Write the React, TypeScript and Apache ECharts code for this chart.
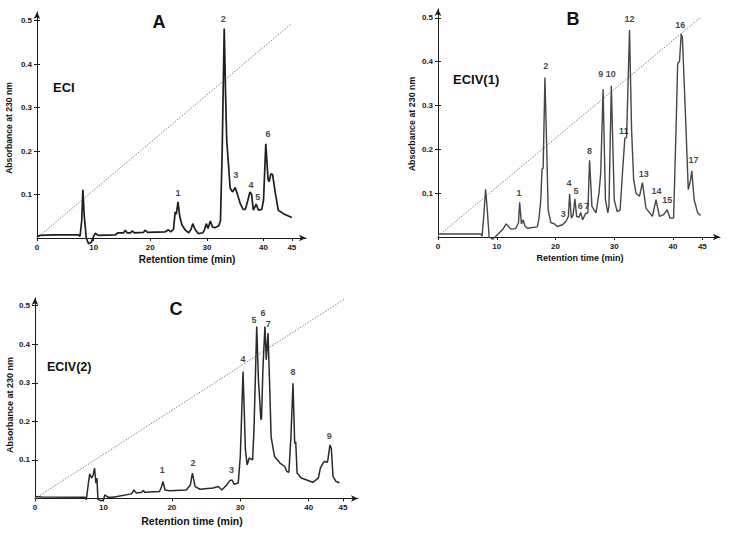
import React, { useEffect, useRef } from "react";
import * as echarts from "echarts";

// ---------- data ----------
const xTicks = [0, 10, 20, 30, 40, 45];
const yTicks = [0.1, 0.2, 0.3, 0.4, 0.5];

// Panel A (ECI): retention time (min), absorbance at 230 nm
const traceA: number[][] = [
  [0, 0.003], [0.5, 0.006], [3, 0.007], [7.3, 0.007], [7.6, 0.004], [7.9, 0.04], [8.1, 0.111], [8.35, 0.05],
  [8.7, 0.0], [9.1, -0.013], [9.6, -0.01], [10.0, 0.004], [10.3, 0.011], [10.8, 0.006], [13.8, 0.007],
  [14.3, 0.012], [15.3, 0.012], [15.6, 0.018], [15.9, 0.012], [16.5, 0.012], [16.8, 0.016], [17.2, 0.012],
  [18.8, 0.013], [19.1, 0.018], [19.5, 0.013], [22.6, 0.014], [23.2, 0.019], [23.6, 0.014], [24.1, 0.02],
  [24.4, 0.06], [24.6, 0.055], [24.9, 0.083], [25.2, 0.05], [25.6, 0.03], [26.2, 0.018], [26.8, 0.012],
  [27.2, 0.02], [27.5, 0.033], [27.9, 0.02], [28.5, 0.01], [29.3, 0.012], [29.6, 0.02], [29.9, 0.033],
  [30.2, 0.022], [30.6, 0.039], [31.0, 0.025], [31.5, 0.024], [32.1, 0.028], [32.4, 0.04], [32.7, 0.2],
  [33.06, 0.482], [33.3, 0.33], [33.5, 0.225], [33.8, 0.171], [34.1, 0.115], [34.5, 0.106], [35.0, 0.116],
  [35.4, 0.1], [35.9, 0.079], [36.4, 0.066], [36.8, 0.066], [37.2, 0.085], [37.6, 0.106], [37.9, 0.1],
  [38.2, 0.064], [38.5, 0.072], [38.7, 0.078], [39.1, 0.064], [39.7, 0.066], [40.0, 0.087], [40.4, 0.217],
  [40.8, 0.135], [41.0, 0.13], [41.3, 0.148], [41.6, 0.146], [42.1, 0.102], [42.6, 0.064], [43.5, 0.056],
  [45.0, 0.047],
];
const gradientA: number[][] = [[0, 0], [45, 0.494]];
const peakNamesA = ["1", "2", "3", "4", "5", "6"];
const peakPosA: number[][] = [[24.9, 0.104], [32.9, 0.503], [35.1, 0.144], [37.8, 0.123], [39.0, 0.094], [40.8, 0.24]];

// Panel B (ECIV(1))
const traceB: number[][] = [
  [0, 0.007], [7.3, 0.007], [7.5, 0.002], [7.8, 0.05], [8.1, 0.109], [8.4, 0.06], [8.7, 0.0], [9.3, -0.005],
  [10.1, 0.005], [11.0, 0.017], [11.6, 0.03], [12.4, 0.018], [13.2, 0.019], [13.7, 0.032], [13.9, 0.079],
  [14.2, 0.03], [14.5, 0.039], [14.8, 0.025], [15.2, 0.02], [16.9, 0.023], [17.2, 0.043], [17.5, 0.085],
  [17.7, 0.155], [17.9, 0.157], [18.2, 0.364], [18.5, 0.206], [18.75, 0.062], [19.2, 0.033], [19.8, 0.03],
  [20.3, 0.024], [21.2, 0.028], [21.8, 0.036], [22.2, 0.047], [22.4, 0.098], [22.7, 0.043], [23.0, 0.05],
  [23.3, 0.087], [23.6, 0.047], [24.0, 0.045], [24.3, 0.056], [24.6, 0.039], [25.1, 0.053], [25.5, 0.055],
  [25.8, 0.175], [26.2, 0.07], [26.9, 0.055], [27.4, 0.1], [27.7, 0.146], [28.1, 0.337], [28.5, 0.085],
  [28.9, 0.055], [29.1, 0.07], [29.5, 0.345], [30.0, 0.085], [30.5, 0.058], [31.0, 0.062], [31.4, 0.146],
  [31.8, 0.225], [32.1, 0.227], [32.6, 0.472], [32.95, 0.245], [33.3, 0.131], [33.7, 0.1], [34.3, 0.093],
  [34.8, 0.124], [35.4, 0.066], [36.5, 0.047], [37.1, 0.085], [37.7, 0.047], [38.4, 0.051], [39.0, 0.062],
  [39.5, 0.043], [40.1, 0.043], [40.5, 0.237], [40.8, 0.396], [41.1, 0.4], [41.4, 0.463], [41.6, 0.455],
  [42.2, 0.252], [42.6, 0.108], [43.0, 0.131], [43.2, 0.151], [43.6, 0.085], [44.2, 0.055], [44.7, 0.049],
];
const gradientB: number[][] = [[0, 0.002], [44.6, 0.5]];
const peakNamesB = ["1", "2", "3", "4", "5", "6", "7", "8", "9", "10", "11", "12", "13", "14", "15", "16", "17"];
const peakPosB: number[][] = [
  [13.8, 0.1], [18.35, 0.39], [21.3, 0.052], [22.3, 0.123], [23.5, 0.106], [24.2, 0.07], [25.3, 0.07],
  [25.8, 0.197], [27.7, 0.372], [29.4, 0.372], [31.6, 0.242], [32.6, 0.497], [35.0, 0.144], [37.2, 0.106],
  [39.0, 0.085], [41.25, 0.483], [43.5, 0.175],
];

// Panel C (ECIV(2))
const traceC: number[][] = [
  [0, 0.005], [1, 0.004], [7.3, 0.0035], [7.5, -0.003], [7.8, 0.04], [8.0, 0.064], [8.3, 0.053], [8.5, 0.061],
  [8.7, 0.079], [8.9, 0.04], [9.05, 0.053], [9.2, -0.003], [9.7, -0.006], [10.0, -0.004], [10.2, 0.0095],
  [10.7, 0.003], [11.4, 0.003], [14.1, 0.012], [14.45, 0.022], [14.8, 0.014], [15.6, 0.016], [15.8, 0.021],
  [16.1, 0.016], [18.2, 0.018], [18.5, 0.031], [18.7, 0.044], [19.0, 0.022], [19.7, 0.02], [22.1, 0.022],
  [22.7, 0.035], [23.0, 0.066], [23.4, 0.031], [24.1, 0.024], [26.0, 0.027], [26.8, 0.031], [27.3, 0.022],
  [28.0, 0.035], [28.5, 0.047], [28.8, 0.048], [29.1, 0.037], [29.7, 0.04], [30.0, 0.109], [30.4, 0.329],
  [30.75, 0.126], [31.0, 0.087], [31.3, 0.105], [31.8, 0.1], [32.0, 0.178], [32.4, 0.446], [32.65, 0.308],
  [33.0, 0.206], [33.1, 0.205], [33.3, 0.334], [33.6, 0.446], [33.8, 0.36], [34.05, 0.429], [34.3, 0.29],
  [34.5, 0.16], [35.0, 0.109], [35.8, 0.092], [36.5, 0.083], [36.8, 0.07], [37.1, 0.068], [37.4, 0.16],
  [37.7, 0.299], [37.95, 0.143], [38.1, 0.147], [38.3, 0.066], [38.9, 0.053], [39.7, 0.048], [40.6, 0.042],
  [41.4, 0.053], [41.7, 0.079], [42.1, 0.092], [42.3, 0.096], [42.7, 0.094], [42.8, 0.1], [43.1, 0.139],
  [43.3, 0.13], [43.55, 0.057], [44.0, 0.044], [44.5, 0.041],
];
const gradientC: number[][] = [[0, 0], [45.3, 0.518]];
const peakNamesC = ["1", "2", "3", "4", "5", "6", "7", "8", "9"];
const peakPosC: number[][] = [
  [18.6, 0.074], [23.1, 0.092], [28.7, 0.073], [30.4, 0.361], [32.0, 0.463], [33.3, 0.48], [34.1, 0.453],
  [37.7, 0.329], [43.0, 0.162],
];

const panelTitles = ["A", "B", "C"];
const sampleNames = ["ECI", "ECIV(1)", "ECIV(2)"];
const yAxisTitle = "Absorbance at 230 nm";
const xAxisTitle = "Retention time (min)";

// ---------- styling / layout ----------
const FONT = "'Liberation Sans', Arial, Helvetica, sans-serif";
const AX = "#1a1a1a";

const grids = [
  { left: 37, top: 12, width: 269, height: 226, xMax: 47.5, yMax: 0.52 },
  { left: 438, top: 9, width: 282, height: 228, xMax: 48, yMax: 0.52 },
  { left: 35, top: 298, width: 323, height: 200.5, xMax: 47.2, yMax: 0.52 },
];

function xAxisFor(i: number) {
  return {
    type: "value",
    gridIndex: i,
    min: 0,
    max: grids[i].xMax,
    axisLine: {
      show: true,
      onZero: false,
      symbol: ["none", "arrow"],
      symbolSize: [5, 7],
      lineStyle: { color: AX, width: 1 },
    },
    axisTick: { show: true, customValues: xTicks, length: 3, lineStyle: { color: AX } },
    axisLabel: {
      customValues: xTicks,
      color: AX,
      fontSize: 8,
      fontWeight: "bold",
      fontFamily: FONT,
      margin: 5,
    },
    splitLine: { show: false },
  };
}

function yAxisFor(i: number) {
  return {
    type: "value",
    gridIndex: i,
    min: 0,
    max: grids[i].yMax,
    axisLine: {
      show: true,
      onZero: false,
      symbol: ["none", "arrow"],
      symbolSize: [5, 7],
      lineStyle: { color: AX, width: 1 },
    },
    axisTick: { show: true, customValues: yTicks, length: 3, lineStyle: { color: AX } },
    axisLabel: {
      customValues: yTicks,
      formatter: (v: number) => v.toFixed(1),
      color: AX,
      fontSize: 8,
      fontWeight: "bold",
      fontFamily: FONT,
      margin: 5,
    },
    splitLine: { show: false },
  };
}

// second y axis on the same spot, only to draw the inner half of the crossing ticks
function yInnerTicksFor(i: number) {
  return {
    type: "value",
    gridIndex: i,
    position: "left",
    min: 0,
    max: grids[i].yMax,
    axisLine: { show: false },
    axisTick: { show: true, inside: true, customValues: yTicks, length: 3, lineStyle: { color: AX } },
    axisLabel: { show: false },
    splitLine: { show: false },
  };
}

function traceSeries(i: number, data: number[][], color: string, width: number) {
  return {
    type: "line",
    xAxisIndex: i,
    yAxisIndex: i,
    data,
    symbol: "none",
    showSymbol: false,
    clip: false,
    silent: true,
    lineStyle: { color, width },
    z: 3,
  };
}

function gradientSeries(i: number, data: number[][]) {
  return {
    type: "line",
    xAxisIndex: i,
    yAxisIndex: i,
    data,
    symbol: "none",
    showSymbol: false,
    silent: true,
    lineStyle: { color: "#808080", width: 1, type: [1.5, 1.5] },
    z: 2,
  };
}

function labelSeries(i: number, names: string[], pos: number[][]) {
  return {
    type: "scatter",
    xAxisIndex: i,
    yAxisIndex: i,
    data: names.map((n, k) => ({ name: n, value: pos[k] })),
    symbolSize: 1,
    itemStyle: { color: "rgba(0,0,0,0)" },
    silent: true,
    label: {
      show: true,
      position: "inside",
      formatter: "{b}",
      color: "#111",
      fontSize: 9,
      fontWeight: "bold",
      fontFamily: FONT,
    },
    z: 4,
  };
}

function text(x: number, y: number, s: string, size: number, opts: any = {}) {
  const align = opts.align || "center";
  return {
    type: "text",
    x,
    y,
    rotation: opts.rotation || 0,
    silent: true,
    style: {
      text: s,
      fill: "#111",
      font: `bold ${size}px ${FONT}`,
      align,
      verticalAlign: "middle",
      textAlign: align,
      textVerticalAlign: "middle",
    },
  };
}

export default function App() {
  const ref = useRef<HTMLDivElement>(null);

  useEffect(() => {
    if (!ref.current) return;
    const chart = echarts.init(ref.current, null, { renderer: "svg" });
    const option: any = {
      animation: false,
      backgroundColor: "#ffffff",
      grid: grids.map((g) => ({
        left: g.left,
        top: g.top,
        width: g.width,
        height: g.height,
        containLabel: false,
        outerBoundsMode: "none",
      })),
      xAxis: [xAxisFor(0), xAxisFor(1), xAxisFor(2)],
      yAxis: [yAxisFor(0), yAxisFor(1), yAxisFor(2), yInnerTicksFor(0), yInnerTicksFor(1), yInnerTicksFor(2)],
      series: [
        gradientSeries(0, gradientA),
        traceSeries(0, traceA, "#1c1f1f", 1.7),
        labelSeries(0, peakNamesA, peakPosA),
        gradientSeries(1, gradientB),
        traceSeries(1, traceB, "#464646", 1.4),
        labelSeries(1, peakNamesB, peakPosB),
        gradientSeries(2, gradientC),
        traceSeries(2, traceC, "#2a2a2a", 1.5),
        labelSeries(2, peakNamesC, peakPosC),
      ],
      graphic: [
        text(159, 22, panelTitles[0], 18),
        text(573, 19, panelTitles[1], 18),
        text(176, 309, panelTitles[2], 18),
        text(53, 87, sampleNames[0], 13, { align: "left" }),
        text(453, 79, sampleNames[1], 13, { align: "left" }),
        text(47, 367, sampleNames[2], 12.5, { align: "left" }),
        text(9, 128, yAxisTitle, 8.6, { rotation: Math.PI / 2 }),
        text(412, 124, yAxisTitle, 8.9, { rotation: Math.PI / 2 }),
        text(10, 405, yAxisTitle, 9, { rotation: Math.PI / 2 }),
        text(187, 259, xAxisTitle, 10),
        text(580, 258, xAxisTitle, 9),
        text(192, 521, xAxisTitle, 10.5),
      ],
    };
    chart.setOption(option);
    return () => chart.dispose();
  }, []);

  return (
    <div
      ref={ref}
      style={{ position: "fixed", left: 0, top: 0, width: 729, height: 533, background: "#fff" }}
    />
  );
}
